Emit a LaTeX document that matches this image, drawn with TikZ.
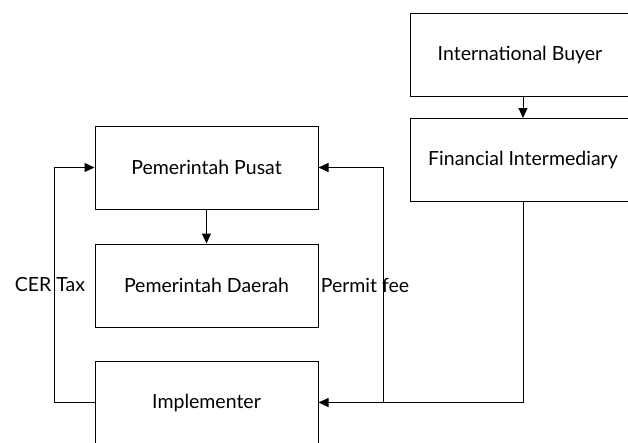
\documentclass[tikz,border=0pt]{standalone}
\usepackage{fontspec}
\setmainfont{Lato}
\usetikzlibrary{arrows.meta}
\tikzset{
  box/.style={draw,line width=1pt,rectangle,minimum width=223pt,minimum height=83pt,inner sep=0pt},
  bigbox/.style={box,minimum width=226pt},
  link/.style={line width=1pt,->},
  >={Triangle[length=10pt,width=9pt]}
}
\begin{document}
\begin{tikzpicture}[x=1pt,y=-1pt,font=\fontsize{19.5}{23}\selectfont]
    \useasboundingbox (0,0) rectangle (628,442);
    \node[box] (pusat) at (206.5,167.5) {Pemerintah Pusat};
    \node[box] (daerah) at (206.5,285.5) {Pemerintah Daerah};
    \node[box] (impl) at (206.5,402.5) {Implementer};
    \node[bigbox] (buyer) at (523,55) {\hspace*{-6pt}International Buyer};
    \node[bigbox] (fin) at (523,160) {Financial Intermediary};
    \coordinate (joint) at (383,402.5);
    \draw[link] (pusat) -- (daerah);
    \draw[link] (buyer) -- (fin);
    \draw[link] (impl.west) -- ++(-40,0) |- (pusat.west);
    \draw[link] (fin.south) |- (impl.east);
    \draw[link] (joint) |- (pusat.east);
    \node (tax) at (50,285) {CER Tax};
    \node (fee) at (365,285) {Permit fee};
  \end{tikzpicture}
\end{document}
